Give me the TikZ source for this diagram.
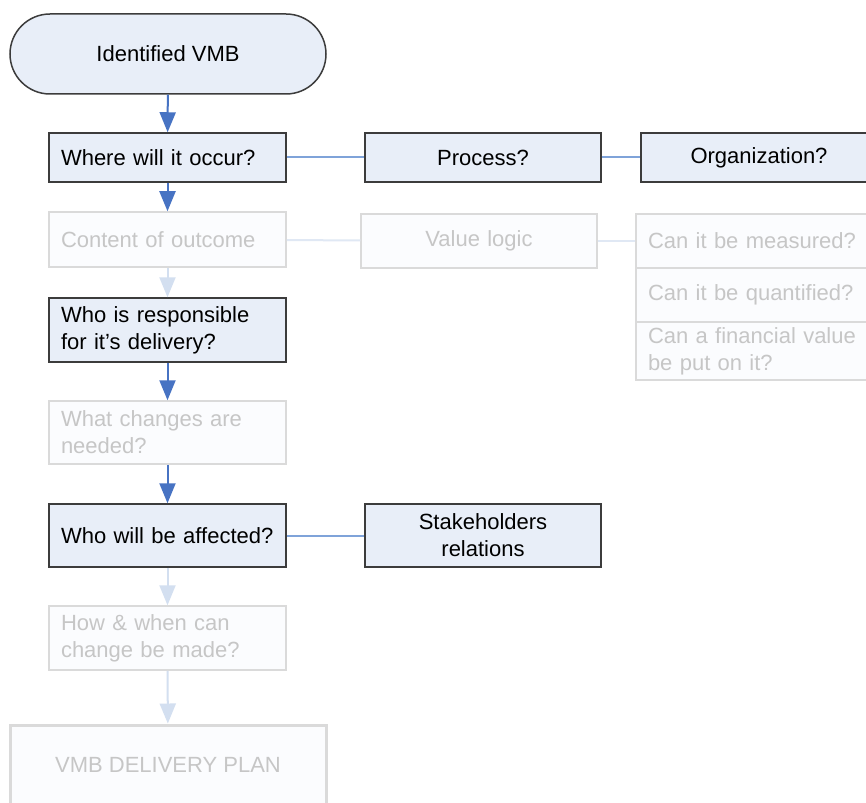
\documentclass[tikz,border=0pt]{standalone}
\usepackage{fontspec}
\setmainfont{Liberation Sans}
\usetikzlibrary{arrows.meta}
\definecolor{actfill}{HTML}{E8EEF8}
\definecolor{actdraw}{HTML}{3C3C3C}
\definecolor{fadefill}{HTML}{FBFCFE}
\definecolor{fadedraw}{HTML}{DADADA}
\definecolor{fadetext}{HTML}{C6C6C6}
\definecolor{arrblue}{HTML}{4773C3}
\definecolor{lineblue}{HTML}{7FA3D9}
\definecolor{fadeblue}{HTML}{D3DFF0}
\definecolor{fadeline}{HTML}{E0E8F4}
\tikzset{
  base/.style={rectangle, minimum height=#1, inner xsep=12pt, inner ysep=0pt,
    font=\fontsize{22}{27}\selectfont},
  act/.style={base=#1, draw=actdraw, fill=actfill, line width=1.5pt, text=black},
  fade/.style={base=#1, draw=fadedraw, fill=fadefill, line width=1.5pt, text=fadetext},
  lft/.style={text width=213pt, align=left},
  ctr/.style={text width=212pt, align=center},
  flowarr/.style={color=arrblue, line width=2pt, -{Triangle[length=20pt,width=16pt]}},
  fadearr/.style={color=fadeblue, line width=2pt, -{Triangle[length=20pt,width=16pt]}},
  link/.style={color=lineblue, line width=2pt},
  fadelink/.style={color=fadeline, line width=2pt}
}
\begin{document}
\begin{tikzpicture}[x=1pt,y=-1pt]
\useasboundingbox (0,0) rectangle (866,802);
\clip (0,0) rectangle (866,802);
\fill[white] (0,0) rectangle (866,802);
% nodes
\node[act=80pt, minimum width=316pt, rounded corners=40pt, align=center] (term) at (168,54) {Identified VMB};
\node[act=49pt, lft] (where) at (167.5,157.5) {Where will it occur?};
\node[act=49pt, ctr] (proc) at (483,157.5) {Process?};
\node[act=49pt, ctr] (org) at (759,157.5) {Organization?};
\node[fade=55pt, lft] (content) at (167.5,239.5) {Content of outcome};
\node[fade=54pt, ctr] (value) at (479,241) {Value logic};
\node[fade=54pt, text width=212pt, align=left] (meas) at (754,241) {Can it be measured?};
\node[fade=54pt, text width=212pt, align=left] (quant) at (754,295) {Can it be quantified?};
\node[fade=58pt, text width=212pt, align=left] (fin) at (754,351) {Can a financial value\\be put on it?};
\node[act=64pt, lft] (resp) at (167.5,330) {Who is responsible\\for it’s delivery?};
\node[fade=63pt, lft] (changes) at (167.5,432.5) {What changes are\\needed?};
\node[act=63pt, lft] (affected) at (167.5,535.5) {Who will be affected?};
\node[act=63pt, ctr] (stake) at (483,535.5) {Stakeholders\\relations};
\node[fade=64pt, lft] (how) at (167.5,638) {How \& when can\\change be made?};
\node[base=80pt, minimum width=316pt, draw=fadedraw, fill=fadefill, line width=3pt, text=fadetext] (plan) at (168,765) {VMB DELIVERY PLAN};
% vertical connectors
\draw[flowarr] (term) -- (where);
\draw[flowarr] (where) -- (content);
\draw[fadearr] (content) -- (resp);
\draw[flowarr] (resp) -- (changes);
\draw[flowarr] (changes) -- (affected);
\draw[fadearr] (affected) -- (how);
\draw[fadearr] (how) -- (plan);
% horizontal links
\draw[link] (where) -- (proc);
\draw[link] (proc) -- (org);
\draw[fadelink] (content) -- (value);
\draw[fadelink] (value) -- (meas);
\draw[link] (affected) -- (stake);
\end{tikzpicture}
\end{document}
